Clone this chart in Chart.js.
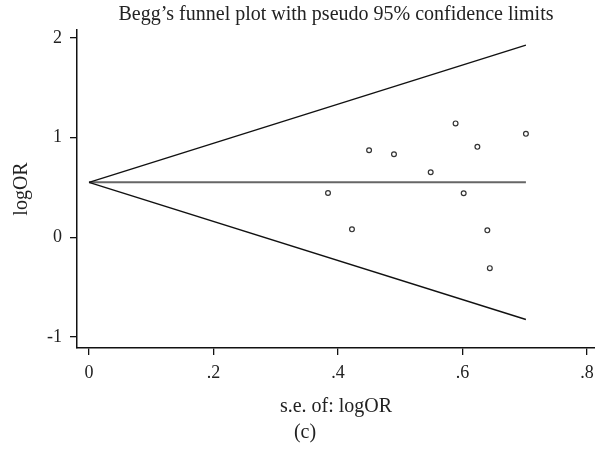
<!DOCTYPE html>
<html>
<head>
<meta charset="utf-8">
<script src="https://cdn.jsdelivr.net/npm/chart.js@4/dist/chart.umd.min.js"></script>
<style>
  html, body { margin: 0; padding: 0; background: #fff; }
  #wrap { width: 595px; height: 455px; }
</style>
</head>
<body>
<div id="wrap"><canvas id="funnel" width="595" height="455"></canvas></div>
<script>
// study points: standard error vs logOR
const studySE = [0.384, 0.4225, 0.450, 0.490, 0.549, 0.589, 0.602, 0.624, 0.640, 0.644, 0.702];
const studyLogOR = [0.445, 0.080, 0.874, 0.834, 0.653, 1.143, 0.442, 0.908, 0.070, -0.309, 1.038];

// pseudo 95% confidence limits (endpoints)
const limitSE = [0, 0.702];
const upperLimit = [0.552, 1.928];
const lowerLimit = [0.552, -0.824];
const pooledLine = [0.552, 0.552];

// tick labels
const xTicks = [0, 0.2, 0.4, 0.6, 0.8];
const xTickLabels = ['0', '.2', '.4', '.6', '.8'];
const yTicks = [-1, 0, 1, 2];
const yTickLabels = ['-1', '0', '1', '2'];

const serif = '"Liberation Serif", "DejaVu Serif", serif';
const ink = '#222';

const toPoints = (xs, ys) => xs.map((x, i) => ({ x: x, y: ys[i] }));

// panel caption "(c)" under the axis title
const captionPlugin = {
    id: 'caption',
    afterDraw(chart) {
        const ctx = chart.ctx;
        ctx.save();
        ctx.font = '20px ' + serif;
        ctx.fillStyle = ink;
        ctx.textAlign = 'center';
        ctx.textBaseline = 'middle';
        ctx.fillText('(c)', 305, 433);
        ctx.restore();
    }
};

const funnelChart = new Chart(document.getElementById('funnel'), {
    type: 'scatter',
    data: {
        datasets: [
            {
                label: 'upper',
                data: toPoints(limitSE, upperLimit),
                showLine: true,
                borderColor: '#111',
                borderWidth: 1.4,
                pointRadius: 0
            },
            {
                label: 'lower',
                data: toPoints(limitSE, lowerLimit),
                showLine: true,
                borderColor: '#111',
                borderWidth: 1.4,
                pointRadius: 0
            },
            {
                label: 'pooled',
                data: toPoints(limitSE, pooledLine),
                showLine: true,
                borderColor: '#666',
                borderWidth: 2,
                pointRadius: 0
            },
            {
                label: 'studies',
                data: toPoints(studySE, studyLogOR),
                showLine: false,
                pointRadius: 2.4,
                pointBorderWidth: 1.2,
                pointBackgroundColor: '#fff',
                pointBorderColor: '#333'
            }
        ]
    },
    plugins: [captionPlugin],
    options: {
        responsive: false,
        animation: false,
        layout: { autoPadding: false, padding: { left: 0, right: 0, top: 0, bottom: 0 } },
        plugins: {
            legend: { display: false },
            tooltip: { enabled: false },
            title: {
                display: true,
                fullSize: false,
                text: 'Begg\u2019s funnel plot with pseudo 95% confidence limits',
                color: ink,
                font: { family: serif, size: 20, weight: 'normal' },
                padding: { top: 3, bottom: 3 }
            }
        },
        scales: {
            x: {
                type: 'linear',
                min: -0.0193,
                max: 0.813,
                afterBuildTicks: (scale) => { scale.ticks = xTicks.map(v => ({ value: v })); },
                afterFit: (scale) => {
                    scale.height = 107;
                    scale.paddingLeft = 0;
                    scale.paddingRight = 0;
                },
                border: { display: true, color: '#111', width: 1.5 },
                grid: { display: true, drawOnChartArea: false, drawTicks: true, tickLength: 7, color: '#111', lineWidth: 1.3 },
                ticks: {
                    color: ink,
                    padding: 7,
                    maxRotation: 0,
                    font: { family: serif, size: 18 },
                    callback: (value) => xTickLabels[xTicks.indexOf(value)]
                },
                title: {
                    display: true,
                    text: 's.e. of: logOR',
                    color: ink,
                    font: { family: serif, size: 20 },
                    padding: { top: 0, bottom: 36 }
                }
            },
            y: {
                type: 'linear',
                min: -1.11,
                max: 2.08,
                afterBuildTicks: (scale) => { scale.ticks = yTicks.map(v => ({ value: v })); },
                afterFit: (scale) => {
                    scale.width = 77;
                    scale.paddingTop = 0;
                    scale.paddingBottom = 0;
                },
                border: { display: true, color: '#111', width: 1.5 },
                grid: { display: true, drawOnChartArea: false, drawTicks: true, tickLength: 7, color: '#111', lineWidth: 1.3 },
                ticks: {
                    color: ink,
                    padding: 8,
                    font: { family: serif, size: 18 },
                    callback: (value) => yTickLabels[yTicks.indexOf(value)]
                },
                title: {
                    display: true,
                    text: 'logOR',
                    color: ink,
                    font: { family: serif, size: 20 },
                    padding: { top: 10, bottom: 0 }
                }
            }
        }
    }
});
</script>
</body>
</html>
